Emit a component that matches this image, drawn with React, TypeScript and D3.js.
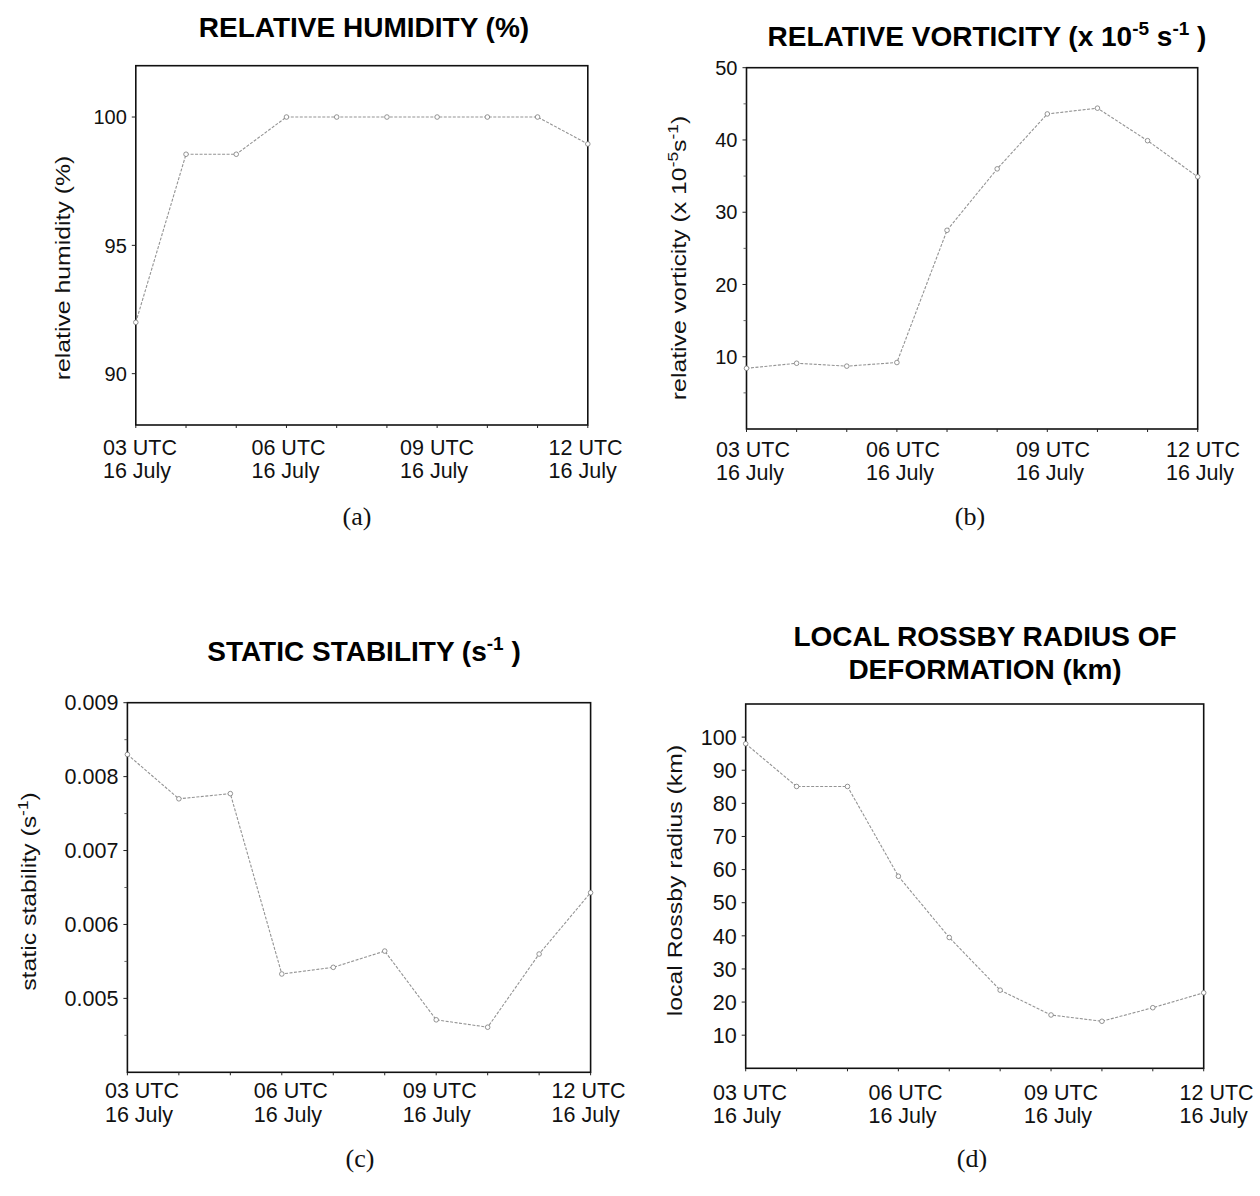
import React from "react";
import * as d3 from "d3";

// ---------- data ----------
const hours = [3, 4, 5, 6, 7, 8, 9, 10, 11, 12];
const labelHours = [3, 6, 9, 12];
const hourLabels = ["03 UTC", "06 UTC", "09 UTC", "12 UTC"];
const dateLabel = "16 July";

const humidity = [92.0, 98.55, 98.55, 100, 100, 100, 100, 100, 100, 98.95];
const vorticity = [8.4, 9.1, 8.7, 9.2, 27.5, 36.0, 43.6, 44.4, 39.9, 34.9];
const stability = [0.0083, 0.0077, 0.00777, 0.00533, 0.00542, 0.00564, 0.00471, 0.00461, 0.0056, 0.00643];
const rossby = [98, 85.1, 85.1, 58, 39.5, 23.6, 16.1, 14.2, 18.3, 22.8];

const humidityTicks = [90, 95, 100];
const vorticityTicks = [10, 20, 30, 40, 50];
const vorticityMinor = [5, 15, 25, 35, 45];
const stabilityTicks = [0.005, 0.006, 0.007, 0.008, 0.009];
const stabilityMinor = [0.0045, 0.0055, 0.0065, 0.0075, 0.0085];
const rossbyTicks = [10, 20, 30, 40, 50, 60, 70, 80, 90, 100];

const SANS = "'Liberation Sans', Arial, Helvetica, sans-serif";
const SERIF = "'Liberation Serif', 'Times New Roman', serif";

type Part = { t: string; sup?: boolean };

type PanelCfg = {
  values: number[];
  domain: [number, number];
  ticks: number[];
  minor: number[];
  fmt: (v: number) => string;
  left: number; right: number; top: number; bottom: number;
  tickFont: number;
  labelStart: number; labelEnd: number;
  labelBase1: number; labelBase2: number;
  title: Part[][];
  titleX: number; titleY: number[];
  yLabel: Part[];
  yLabelX: number; yLabelY: number;
  tag: string; tagX: number; tagY: number;
};

function RichText({ parts, size, supSize, supDy }: { parts: Part[]; size: number; supSize: number; supDy: number }) {
  const out: React.ReactNode[] = [];
  let raised = false;
  parts.forEach((p, i) => {
    if (p.sup) {
      out.push(<tspan key={i} fontSize={supSize} dy={-supDy}>{p.t}</tspan>);
      raised = true;
    } else {
      out.push(<tspan key={i} fontSize={size} dy={raised ? supDy : 0}>{p.t}</tspan>);
      raised = false;
    }
  });
  return <>{out}</>;
}

function Panel({ c }: { c: PanelCfg }) {
  const x = d3.scaleLinear().domain([3, 12]).range([c.left, c.right]);
  const y = d3.scaleLinear().domain(c.domain).range([c.bottom, c.top]);
  const xl = d3.scaleLinear().domain([3, 12]).range([c.labelStart, c.labelEnd]);
  const line = d3.line<number>().x((_, i) => x(hours[i])).y((v) => y(v));
  return (
    <g>
      {c.title.map((ln, i) => (
        <text key={i} x={c.titleX} y={c.titleY[i]} textAnchor="middle" fontFamily={SANS} fontWeight="bold" fontSize={28}>
          <RichText parts={ln} size={28} supSize={19} supDy={11} />
        </text>
      ))}
      {/* frame */}
      <rect x={c.left} y={c.top} width={c.right - c.left} height={c.bottom - c.top} fill="none" stroke="#111" strokeWidth={1.6} />
      {/* x ticks */}
      {hours.map((h) => (
        <line key={h} x1={x(h)} x2={x(h)} y1={c.bottom} y2={c.bottom + 3} stroke="#222" strokeWidth={1} />
      ))}
      {/* y ticks */}
      {c.ticks.map((t) => (
        <line key={"t" + t} x1={c.left - 4} x2={c.left} y1={y(t)} y2={y(t)} stroke="#222" strokeWidth={1} />
      ))}
      {c.minor.map((t) => (
        <line key={"m" + t} x1={c.left - 3} x2={c.left} y1={y(t)} y2={y(t)} stroke="#444" strokeWidth={0.8} />
      ))}
      {c.ticks.map((t) => (
        <text key={"l" + t} x={c.left - 9} y={y(t)} dy="0.36em" textAnchor="end" fontFamily={SANS} fontSize={c.tickFont} fill="#111">
          {c.fmt(t)}
        </text>
      ))}
      {/* x labels */}
      {labelHours.map((h, i) => (
        <g key={"xl" + h}>
          <text x={xl(h)} y={c.labelBase1} textAnchor="middle" fontFamily={SANS} fontSize={21.5} fill="#111">{hourLabels[i]}</text>
          <text x={xl(h) - 3} y={c.labelBase2} textAnchor="middle" fontFamily={SANS} fontSize={21.5} fill="#111">{dateLabel}</text>
        </g>
      ))}
      {/* y axis label */}
      <g transform={`translate(${c.yLabelX},${c.yLabelY}) rotate(-90) scale(1.24,1)`}>
        <text x={0} y={0} textAnchor="middle" fontFamily={SANS} fontSize={20} fill="#111">
          <RichText parts={c.yLabel} size={20} supSize={14} supDy={8} />
        </text>
      </g>
      {/* data line */}
      <path d={line(c.values) || ""} fill="none" stroke="#949494" strokeWidth={1.1} strokeDasharray="3 1.5" />
      {c.values.map((v, i) => (
        <circle key={"p" + i} cx={x(hours[i])} cy={y(v)} r={2.3} fill="#fff" stroke="#7a7a7a" strokeWidth={0.8} />
      ))}
      <text x={c.tagX} y={c.tagY} textAnchor="middle" fontFamily={SERIF} fontSize={26} fill="#111">{c.tag}</text>
    </g>
  );
}

const fmtInt = d3.format("d");
const fmt3 = d3.format(".3f");

const panels: PanelCfg[] = [
  {
    values: humidity, domain: [88, 102], ticks: humidityTicks, minor: [], fmt: fmtInt,
    left: 135.8, right: 587.8, top: 65.7, bottom: 425, tickFont: 20,
    labelStart: 140, labelEnd: 585.6, labelBase1: 455, labelBase2: 478,
    title: [[{ t: "RELATIVE HUMIDITY (%)" }]], titleX: 364, titleY: [37],
    yLabel: [{ t: "relative humidity (%)" }], yLabelX: 69.5, yLabelY: 268,
    tag: "(a)", tagX: 357, tagY: 525,
  },
  {
    values: vorticity, domain: [0, 50], ticks: vorticityTicks, minor: vorticityMinor, fmt: fmtInt,
    left: 746.5, right: 1197.7, top: 67.7, bottom: 429, tickFont: 20,
    labelStart: 753, labelEnd: 1203, labelBase1: 456.7, labelBase2: 480,
    title: [[{ t: "RELATIVE VORTICITY (x 10" }, { t: "-5", sup: true }, { t: " s" }, { t: "-1", sup: true }, { t: "  )" }]],
    titleX: 987, titleY: [46],
    yLabel: [{ t: "relative vorticity (x 10" }, { t: "-5", sup: true }, { t: "s" }, { t: "-1", sup: true }, { t: ")" }],
    yLabelX: 685.5, yLabelY: 258,
    tag: "(b)", tagX: 970, tagY: 525,
  },
  {
    values: stability, domain: [0.004, 0.009], ticks: stabilityTicks, minor: stabilityMinor, fmt: fmt3,
    left: 127.4, right: 590.6, top: 702.7, bottom: 1072.3, tickFont: 21.5,
    labelStart: 142, labelEnd: 588.6, labelBase1: 1098.3, labelBase2: 1121.7,
    title: [[{ t: "STATIC STABILITY (s" }, { t: "-1", sup: true }, { t: " )" }]], titleX: 364, titleY: [660.7],
    yLabel: [{ t: "static stability (s" }, { t: "-1", sup: true }, { t: ")" }],
    yLabelX: 35.5, yLabelY: 891.5,
    tag: "(c)", tagX: 360, tagY: 1167,
  },
  {
    values: rossby, domain: [0, 110], ticks: rossbyTicks, minor: [], fmt: fmtInt,
    left: 745.7, right: 1203.7, top: 704, bottom: 1068.3, tickFont: 21.5,
    labelStart: 750, labelEnd: 1216.6, labelBase1: 1100, labelBase2: 1123,
    title: [[{ t: "LOCAL ROSSBY RADIUS OF" }], [{ t: "DEFORMATION (km)" }]], titleX: 985, titleY: [646, 678.5],
    yLabel: [{ t: "local Rossby radius (km)" }], yLabelX: 681.5, yLabelY: 880.5,
    tag: "(d)", tagX: 972, tagY: 1167,
  },
];

export default function App() {
  return (
    <svg width={1260} height={1196} style={{ position: "absolute", left: 0, top: 0, background: "#fff" }}>
      <rect width={1260} height={1196} fill="#fff" />
      {panels.map((p, i) => <Panel key={i} c={p} />)}
    </svg>
  );
}
